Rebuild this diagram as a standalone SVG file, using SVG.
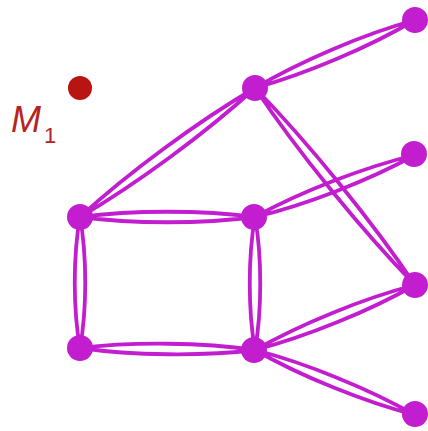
<svg xmlns="http://www.w3.org/2000/svg" width="428" height="431" viewBox="0 0 428 431">
<style>
.e{fill:none;stroke:#c21ed0;stroke-width:3.8;stroke-linecap:round}
.n{fill:#c21ed0}
.lbl{font-family:"Liberation Sans",Arial,sans-serif;fill:#b82222}
</style>
<rect width="428" height="431" fill="#ffffff"/>
<g id="connectors">
<path class="e" d="M80,217 C136.65,183.94 206.65,132.34 255,88 M80,217 C128.35,172.66 198.35,121.06 255,88"/>
<path class="e" d="M255,88 C305.74,74.04 369.74,46.84 415,20 M255,88 C300.26,61.16 364.26,33.96 415,20"/>
<path class="e" d="M255,88 C297.57,151.51 361.57,230.31 415,285 M255,88 C308.43,142.69 372.43,221.49 415,285"/>
<path class="e" d="M80,217 C132.5,224 202.5,224 255,217 M80,217 C132.5,210 202.5,210 255,217"/>
<path class="e" d="M255,217 C305.53,204.93 369.53,180.13 415,155 M255,217 C300.47,191.87 364.47,167.07 415,155"/>
<path class="e" d="M80,217 C87,256.3 87,308.7 80,348 M80,217 C73,256.3 73,308.7 80,348"/>
<path class="e" d="M255,217 C262,256.9 262,310.1 255,350 M255,217 C248,256.9 248,310.1 255,350"/>
<path class="e" d="M80,348 C132.5,355.6 202.5,356.4 255,350 M80,348 C132.5,341.6 202.5,342.4 255,350"/>
<path class="e" d="M255,350 C305.63,336.98 369.63,310.98 415,285 M255,350 C300.37,324.02 364.37,298.02 415,285"/>
<path class="e" d="M255,350 C300.37,375.98 364.37,401.98 415,415 M255,350 C305.63,363.02 369.63,389.02 415,415"/>
</g>
<g id="nA"><circle class="n" cx="255" cy="88" r="13"/></g>
<g id="nB"><circle class="n" cx="415" cy="20" r="13"/></g>
<g id="nC"><circle class="n" cx="414" cy="154" r="13"/></g>
<g id="nD"><circle class="n" cx="415" cy="285" r="13"/></g>
<g id="nE"><circle class="n" cx="415" cy="414" r="13"/></g>
<g id="nF"><circle class="n" cx="80" cy="217" r="13"/></g>
<g id="nG"><circle class="n" cx="254" cy="217" r="13"/></g>
<g id="nH"><circle class="n" cx="80" cy="348" r="13"/></g>
<g id="nI"><circle class="n" cx="254" cy="350" r="13"/></g>
<g id="M1">
<circle cx="80" cy="88" r="12" fill="#b81414"/>
<text class="lbl" x="11" y="132" font-size="36" font-style="italic">M</text>
<text class="lbl" x="44" y="143" font-size="22">1</text>
</g>
</svg>
